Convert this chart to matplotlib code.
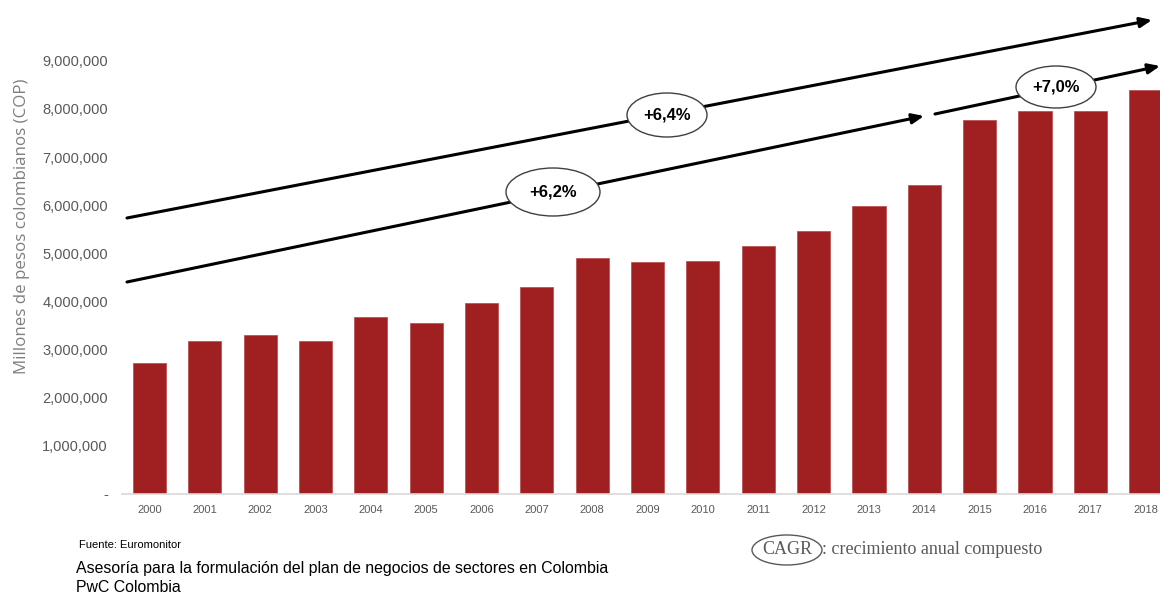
import matplotlib.pyplot as plt
from matplotlib.patches import Ellipse
from matplotlib.ticker import FuncFormatter

# Mercado anual en millones de pesos colombianos
years = [str(y) for y in range(2000, 2019)]
values = [2720000, 3180000, 3310000, 3180000, 3680000, 3560000, 3970000, 4300000,
          4910000, 4820000, 4840000, 5160000, 5470000, 5990000, 6420000, 7780000,
          7960000, 7960000, 8400000]

# Tasas de crecimiento anual compuesto
cagr_labels = ["+6,4%", "+6,2%", "+7,0%"]

bar_color = "#A01F21"
gray = "#595959"

fig = plt.figure(figsize=(11.6, 5.93), dpi=100)
ax = fig.add_axes([0.105, 0.167, 0.895, 0.771])

x = list(range(len(years)))
ax.bar(x, values, width=0.6, color=bar_color, edgecolor="#B8474A", linewidth=0.5)

ax.set_xlim(-0.5, 18.26)
ax.set_ylim(0, 9500000)
ax.set_yticks(range(0, 9000001, 1000000))
ax.yaxis.set_major_formatter(FuncFormatter(lambda v, p: "-" if v == 0 else f"{int(v):,}"))
ax.set_xticks(x)
ax.set_xticklabels(years)
ax.tick_params(axis="y", length=0, pad=10, labelsize=10.5, labelcolor=gray)
ax.tick_params(axis="x", length=0, pad=8, labelsize=8, labelcolor=gray)
for lbl in ax.get_xticklabels() + ax.get_yticklabels():
    lbl.set_family("Liberation Sans")

for side in ["top", "right", "left"]:
    ax.spines[side].set_visible(False)
ax.spines["bottom"].set_color("#D9D9D9")
ax.spines["bottom"].set_linewidth(1.2)

ax.set_ylabel("Millones de pesos colombianos (COP)", fontsize=12.2, color="#7F7F7F",
              family="Open Sans")
ax.yaxis.set_label_coords(-0.088, 0.585)

# Flechas de tendencia, en píxeles de la figura
W, H = 1160, 593


def fx(px):
    return px / W


def fy(py):
    return 1 - py / H


arrows = [((127, 218), (1152, 20)), ((127, 282), (924, 116)), ((935, 114), (1160, 66))]
for (x0, y0), (x1, y1) in arrows:
    ax.annotate("", xy=(fx(x1), fy(y1)), xytext=(fx(x0), fy(y0)),
                xycoords="figure fraction", textcoords="figure fraction",
                arrowprops=dict(arrowstyle="-|>,head_length=0.7,head_width=0.3",
                                color="black", lw=2.2, shrinkA=0, shrinkB=0),
                annotation_clip=False)

# Óvalos con la tasa de crecimiento
ovals = [((667, 115), 80, 44), ((553, 192), 94, 48), ((1056, 87), 80, 42)]
for label, ((cx, cy), w, h) in zip(cagr_labels, ovals):
    fig.patches.append(Ellipse((fx(cx), fy(cy)), w / W, h / H, transform=fig.transFigure,
                               facecolor="white", edgecolor="#404040", lw=1.0, zorder=5))
    fig.text(fx(cx), fy(cy), label, ha="center", va="center", fontsize=12,
             fontweight="bold", family="Liberation Sans", zorder=6)

# Notas al pie
fig.text(fx(79), fy(545), "Fuente: Euromonitor", fontsize=8, family="Liberation Sans",
         va="center")
fig.text(fx(76), fy(568), "Asesoría para la formulación del plan de negocios de sectores en Colombia",
         fontsize=11.4, family="Liberation Sans", va="center")
fig.text(fx(76), fy(587), "PwC Colombia", fontsize=11.4, family="Liberation Sans", va="center")

fig.patches.append(Ellipse((fx(787), fy(550)), 70 / W, 30 / H, transform=fig.transFigure,
                           facecolor="none", edgecolor="#595959", lw=1.0))
fig.text(fx(787), fy(550), "CAGR", ha="center", va="center", fontsize=13,
         family="Liberation Serif", color="#595959")
fig.text(fx(822), fy(550), ": crecimiento anual compuesto", ha="left", va="center",
         fontsize=13, family="Liberation Serif", color="#595959")

fig.savefig("out.png", dpi=100)
